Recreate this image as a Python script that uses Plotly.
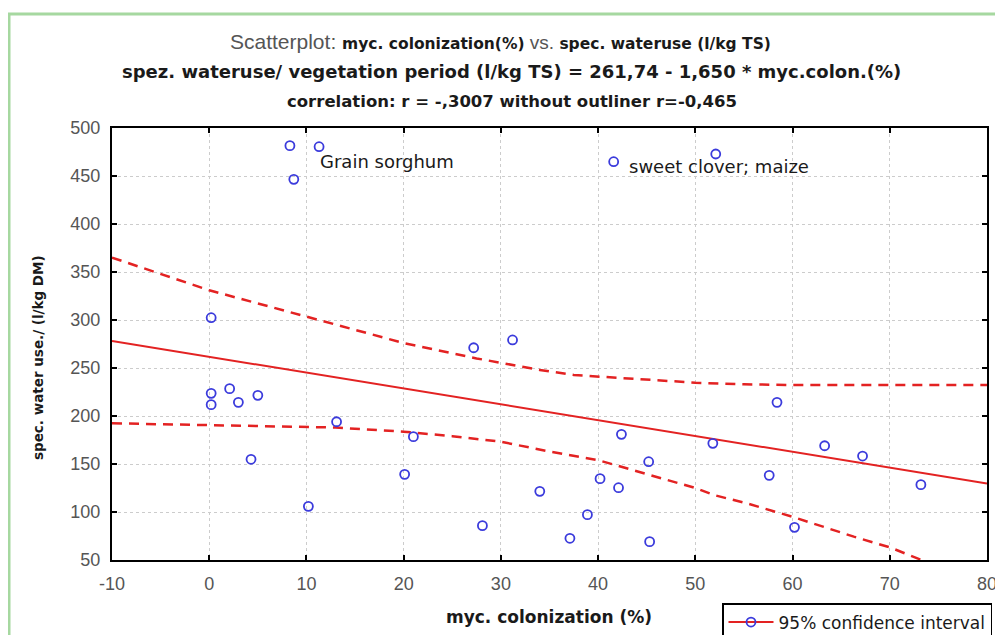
import plotly.graph_objects as go

# ---- data ----
colonization = [8.3, 11.3, 8.7, 0.2, 27.2, 31.2,
                0.2, 0.2, 2.1, 3.0, 5.0, 4.3, 10.2, 13.1, 21.0, 20.1, 28.1, 34.0,
                42.4, 40.2, 42.1, 45.2, 38.9, 37.1, 45.3, 51.8, 58.4, 57.6, 63.3, 67.2, 73.2, 60.2,
                41.6, 52.1]
water_use = [481.6, 480.5, 446.5, 302.4, 271.1, 279.2,
             223.6, 211.8, 228.5, 214.2, 221.5, 154.9, 105.9, 194.0, 178.5, 139.2, 85.8, 121.5,
             180.9, 134.7, 125.3, 152.4, 97.2, 72.6, 69.1, 171.5, 214.2, 138.2, 169.0, 158.3, 128.5, 84.0,
             464.9, 472.9]

reg_x = [-10, 80]
reg_y = [278.2, 129.7]

ci_upper_x = [-10, -5, 0, 10, 20, 27.5, 34, 37.5, 40, 45, 50, 55, 60, 70, 80]
ci_upper_y = [365, 348, 331, 303.5, 276, 260, 248, 242.7, 241, 237.5, 234.7, 233, 232.3, 232.3, 232.3]

ci_lower_x = [-10, 0, 10, 13, 20, 25, 30, 35, 40, 45.2, 50, 51.9, 55.3, 60, 66.3, 70, 73.1, 80]
ci_lower_y = [192.4, 190.6, 188.9, 188, 183.7, 179, 173.2, 163, 154, 139.2, 125, 117.7, 109, 95, 74.3, 63.2, 50.7, 30]

x_ticks = [-10, 0, 10, 20, 30, 40, 50, 60, 70, 80]
x_tick_labels = ['-10', '0', '10', '20', '30', '40', '50', '60', '70', '80']
y_ticks = [50, 100, 150, 200, 250, 300, 350, 400, 450, 500]
y_tick_labels = ['50', '100', '150', '200', '250', '300', '350', '400', '450', '500']

point_labels = ["Grain sorghum", "sweet clover; maize"]
point_label_x = [11.2, 43.0]
point_label_y = [465.6, 459.4]

title_1 = ('<span style="font-family:Liberation Sans;font-weight:normal;color:#555555;font-size:21px">Scatterplot: </span>'
           '<b>myc. colonization(%)</b>'
           '<span style="font-family:Liberation Sans;font-weight:normal;color:#555555;font-size:19px"> vs. </span>'
           '<b>spec. wateruse (l/kg TS)</b>')
title_2 = '<b>spez. wateruse/ vegetation period (l/kg TS) = 261,74 - 1,650 * myc.colon.(%)</b>'
title_3 = '<b>correlation: r = -,3007 without outliner r=-0,465</b>'
x_title = '<b>myc. colonization (%)</b>'
y_title = '<b>spec. water use./ (l/kg DM)</b>'
legend_name = '95% confidence interval'

# ---- layout geometry (screen pixels; page body has an 8px margin) ----
OFF = 8
W, H = 1003 - OFF, 635 - OFF
PL, PT, PW, PH = 112, 128, 875, 432          # plot area on screen
L, T = PL - OFF, PT - OFF
R, B = W - L - PW, H - T - PH


def px(xs):
    return (xs - PL) / PW


def py(ys):
    return (PT + PH - ys) / PH


RED = '#e32222'
BLUE = '#3b3bdc'
TXT = '#1a1a1a'

fig = go.Figure()

fig.add_trace(go.Scatter(x=ci_upper_x, y=ci_upper_y, mode='lines', showlegend=False,
                         line=dict(color=RED, width=2.5, dash='10px,7px'), hoverinfo='skip'))
fig.add_trace(go.Scatter(x=ci_lower_x, y=ci_lower_y, mode='lines', showlegend=False,
                         line=dict(color=RED, width=2.5, dash='10px,7px'), hoverinfo='skip'))
fig.add_trace(go.Scatter(x=reg_x, y=reg_y, mode='lines', showlegend=False,
                         line=dict(color=RED, width=2)))
fig.add_trace(go.Scatter(x=colonization, y=water_use, mode='markers', showlegend=False,
                         marker=dict(symbol='circle-open', size=9, color=BLUE, line=dict(width=1.8, color=BLUE))))
fig.add_trace(go.Scatter(x=[None], y=[None], mode='lines+markers', name=legend_name,
                         line=dict(color=RED, width=2),
                         marker=dict(symbol='circle-open', size=9, color=BLUE, line=dict(width=1.8, color=BLUE))))

annotations = []
for t, ys, xc, fs in [(title_1, 42, 500, 15.5), (title_2, 71, 511, 18), (title_3, 101, 512, 16.5)]:
    annotations.append(dict(text=t, xref='paper', yref='paper', x=px(xc), y=py(ys),
                            xanchor='center', yanchor='middle', showarrow=False,
                            font=dict(family='DejaVu Sans', size=fs, color=TXT)))
for t, xv, yv in zip(point_labels, point_label_x, point_label_y):
    annotations.append(dict(text=t, x=xv, y=yv, xanchor='left', yanchor='middle', showarrow=False,
                            font=dict(family='DejaVu Sans', size=18, color=TXT)))
annotations.append(dict(text=x_title, xref='paper', yref='paper', x=px(549), y=py(617),
                        xanchor='center', yanchor='middle', showarrow=False,
                        font=dict(family='DejaVu Sans', size=17, color=TXT)))
annotations.append(dict(text=y_title, xref='paper', yref='paper', x=px(38), y=py(358),
                        xanchor='center', yanchor='middle', showarrow=False, textangle=-90,
                        font=dict(family='DejaVu Sans', size=13.5, color=TXT)))

shapes = [
    dict(type='line', xref='paper', yref='paper', x0=px(9), x1=px(9), y0=py(14), y1=py(660),
         line=dict(color='#a6d8a0', width=3)),
    dict(type='line', xref='paper', yref='paper', x0=px(8), x1=px(1010), y0=py(14), y1=py(14),
         line=dict(color='#a6d8a0', width=3)),
]

axis_common = dict(showline=True, linecolor='black', linewidth=2, mirror='ticks',
                   ticks='inside', ticklen=5, tickwidth=1.5, tickcolor='black',
                   showgrid=True, gridcolor='#cccccc', griddash='dot', gridwidth=1,
                   zeroline=False, ticklabelstandoff=6,
                   tickfont=dict(family='Liberation Sans', size=18, color='#555555'))

fig.update_layout(
    width=W, height=H,
    margin=dict(l=L, r=R, t=T, b=B, autoexpand=False),
    paper_bgcolor='white', plot_bgcolor='white',
    xaxis=dict(range=[-10, 80], tickvals=x_ticks, ticktext=x_tick_labels, **axis_common),
    yaxis=dict(range=[50, 500], tickvals=y_ticks, ticktext=y_tick_labels, **axis_common),
    annotations=annotations,
    shapes=shapes,
    showlegend=True,
    legend=dict(x=px(722), y=py(603), xanchor='left', yanchor='top', itemwidth=45,
                bordercolor='black', borderwidth=1.5, bgcolor='white',
                font=dict(family='DejaVu Sans', size=17, color=TXT)),
)

fig.write_html('out.html')
